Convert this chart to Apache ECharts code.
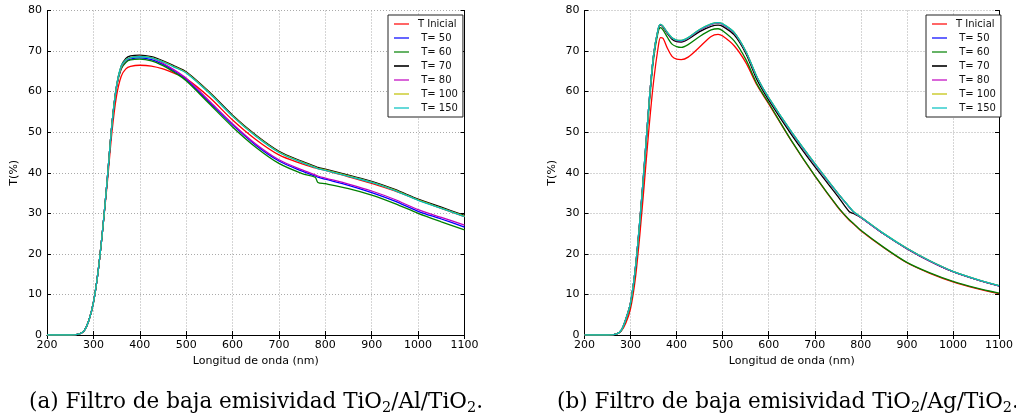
<!DOCTYPE html>
<html>
<head>
<meta charset="utf-8">
<script src="https://cdn.jsdelivr.net/npm/echarts@6/dist/echarts.min.js"></script>
<style>
html,body{margin:0;padding:0;background:#fff;}
#chart{width:1016px;height:414px;}
</style>
</head>
<body>
<div id="chart"></div>
<script>
// ---------- DATA ----------
const seriesNames = ['T Inicial', 'T= 50', 'T= 60', 'T= 70', 'T= 80', 'T= 100', 'T= 150'];
const xTicks = [200, 300, 400, 500, 600, 700, 800, 900, 1000, 1100];
const yTicks = [0, 10, 20, 30, 40, 50, 60, 70, 80];

// (a) TiO2/Al/TiO2
const wlA = [200,250,270,280,290,300,310,320,330,340,350,360,370,380,400,425,450,475,500,550,600,650,700,750,778,784,800,850,900,950,1000,1050,1100];
const a_inicial = [0,0,0.3,1.0,3.5,8,15.5,26,37.5,50,59,63.8,65.6,66.2,66.5,66.3,65.6,64.5,63.2,58.6,53.0,48.2,44.4,42.2,41.2,41.0,40.6,39.0,37.4,35.5,33.3,31.2,29.2];
const a_t50     = [0,0,0.3,1.0,3.5,8,15.5,26,38.5,52,61.3,65.8,67.4,68.0,68.3,67.9,66.7,65.0,63.0,57.4,51.8,46.8,42.9,40.4,39.2,38.9,38.4,36.9,35.1,33.0,30.5,28.6,26.6];
const a_t60     = [0,0,0.3,1.0,3.5,8,15.5,26,38.5,52,61.2,65.6,67.2,67.8,68.0,67.6,66.4,64.7,62.7,57.0,51.3,46.3,42.3,39.8,38.9,37.6,37.3,36.1,34.5,32.4,30.0,27.9,25.9];
const a_t70     = [0,0,0.3,1.0,3.5,8,15.5,26,38.5,52,61.5,66.3,68.2,68.8,69.0,68.6,67.6,66.3,64.9,59.9,54.2,49.3,45.3,42.8,41.6,41.3,40.9,39.4,37.9,35.9,33.5,31.5,29.5];
const a_t80     = [0,0,0.3,1.0,3.5,8,15.5,26,38.5,52,61.4,66.0,67.7,68.4,68.7,68.3,67.0,65.3,63.3,57.7,52.1,47.1,43.2,40.7,39.5,39.2,38.7,37.2,35.5,33.4,30.9,29.0,27.1];
const a_t100    = [0,0,0.3,1.0,3.5,8,15.5,26,38.5,52,61.4,66.2,67.8,68.4,68.7,68.4,67.4,66.1,64.7,59.7,54.0,49.1,45.1,42.6,41.4,41.1,40.7,39.2,37.7,35.7,33.3,31.3,29.3];
const a_t150    = [0,0,0.3,1.0,3.5,8,15.5,26,38.5,52,61.4,66.3,67.8,68.4,68.6,68.3,67.3,66.0,64.6,59.6,53.9,49.0,45.0,42.5,41.3,41.0,40.6,39.1,37.6,35.6,33.2,31.2,29.2];

// (b) TiO2/Ag/TiO2
const wlB = [200,250,270,280,290,300,310,320,330,340,350,360,365,370,380,390,400,410,425,450,475,490,500,525,550,575,600,650,700,750,775,785,800,850,900,950,1000,1050,1100];
const b_inicial = [0,0,0.3,1.0,3.0,6.5,13.5,24.5,37.5,51,62.5,71.0,73.3,73.2,70.7,68.7,68.0,67.9,68.5,71.0,73.6,74.1,73.7,71.3,67.2,61.5,57.0,47.7,39.2,31.5,28.3,27.3,25.7,21.5,17.8,15.2,13.1,11.5,10.2];
const b_t50     = [0,0,0.3,1.2,4,8,16,28,42,57,69,75.4,76.5,76.1,74.5,73.2,72.6,72.5,73.2,75.2,76.6,76.9,76.6,74.5,69.9,63.4,58.4,49.9,42.2,34.9,31.5,30.2,29.0,24.9,21.3,18.2,15.6,13.7,12.1];
const b_t60     = [0,0,0.3,1.1,3.8,7.5,15.5,27.5,41.5,56,68,74.8,75.8,75.3,73.4,71.7,71.1,70.9,71.6,73.6,75.2,75.5,75.0,72.5,68.0,61.8,57.2,47.8,39.3,31.6,28.4,27.4,25.8,21.6,17.9,15.3,13.2,11.6,10.3];
const b_t70     = [0,0,0.3,1.2,4,8,16,28,42,57,69,75.3,76.4,76.0,74.3,72.9,72.3,72.2,72.9,74.8,76.1,76.4,76.1,74.0,69.5,62.8,57.9,49.3,41.5,34.2,30.4,29.9,29.0,24.9,21.3,18.2,15.6,13.7,12.1];
const b_t80     = [0,0,0.3,1.2,4,8,16,28,42,57,69,75.4,76.5,76.1,74.5,73.2,72.6,72.5,73.2,75.2,76.6,76.9,76.6,74.5,69.9,63.4,58.4,49.9,42.2,34.9,31.5,30.2,29.0,24.9,21.3,18.2,15.6,13.7,12.1];
const b_t100    = [0,0,0.3,1.2,4,8,16,28,42,57,69,75.5,76.6,76.2,74.6,73.3,72.7,72.6,73.3,75.3,76.7,77.0,76.7,74.6,70.0,63.5,58.5,50.0,42.3,35.0,31.6,30.3,29.1,25.0,21.4,18.3,15.7,13.8,12.2];
const b_t150    = [0,0,0.3,1.2,4,8,16,28,42,57,69,75.5,76.6,76.2,74.6,73.3,72.7,72.6,73.3,75.3,76.7,77.0,76.7,74.6,70.0,63.5,58.5,50.0,42.3,35.0,31.6,30.3,29.1,25.0,21.4,18.3,15.7,13.8,12.2];

const captionA = ['(a) Filtro de baja emisividad TiO', '2', '/Al/TiO', '2', '.'];
const captionB = ['(b) Filtro de baja emisividad TiO', '2', '/Ag/TiO', '2', '.'];
const xName = 'Longitud de onda (nm)';
const yName = 'T(%)';

// ---------- STYLE ----------
const colors = ['#ff0000', '#0000ff', '#008000', '#000000', '#bf00bf', '#bfbf00', '#00bfbf'];
const legendColors = ['#ff6666', '#6666ff', '#66b366', '#333333', '#d966d9', '#d9d966', '#66d9d9'];
const font = 'DejaVu Sans';
const setA = [a_inicial, a_t50, a_t60, a_t70, a_t80, a_t100, a_t150];
const setB = [b_inicial, b_t50, b_t60, b_t70, b_t80, b_t100, b_t150];

const grids = [
  {left: 47, top: 10.5, width: 417.5, height: 324.5},
  {left: 584.5, top: 10.5, width: 417.5, height: 324.5}
];

const xAxes = [], yAxes = [];
grids.forEach((g, gi) => {
  xAxes.push({
    type: 'value', gridIndex: gi, min: 200, max: 1100, interval: 100, position: 'bottom',
    name: xName, nameLocation: 'middle', nameGap: 19,
    nameTextStyle: {fontFamily: font, fontSize: 11, color: '#000'},
    axisLine: {lineStyle: {color: '#000', width: 1}},
    axisTick: {inside: true, length: 4, lineStyle: {color: '#000'}},
    axisLabel: {fontFamily: font, fontSize: 11, color: '#000', margin: 5,
      formatter: v => xTicks.includes(v) ? String(v) : ''},
    splitLine: {show: true, lineStyle: {color: '#aaaaaa', type: [1, 2], width: 1}}
  });
  xAxes.push({
    type: 'value', gridIndex: gi, min: 200, max: 1100, interval: 100, position: 'top',
    axisLine: {lineStyle: {color: '#000', width: 1}},
    axisTick: {inside: true, length: 4, lineStyle: {color: '#000'}},
    axisLabel: {show: false}, splitLine: {show: false}
  });
  yAxes.push({
    type: 'value', gridIndex: gi, min: 0, max: 80, interval: 10, position: 'left',
    name: yName, nameLocation: 'middle', nameGap: 27, nameRotate: 90,
    nameTextStyle: {fontFamily: font, fontSize: 11, color: '#000'},
    axisLine: {show: true, lineStyle: {color: '#000', width: 1}},
    axisTick: {show: true, inside: true, length: 4, lineStyle: {color: '#000'}},
    axisLabel: {fontFamily: font, fontSize: 11, color: '#000', margin: 5,
      formatter: v => yTicks.includes(v) ? String(v) : ''},
    splitLine: {show: true, lineStyle: {color: '#aaaaaa', type: [1, 2], width: 1}}
  });
  yAxes.push({
    type: 'value', gridIndex: gi, min: 0, max: 80, interval: 10, position: 'right',
    axisLine: {show: true, lineStyle: {color: '#000', width: 1}},
    axisTick: {show: true, inside: true, length: 4, lineStyle: {color: '#000'}},
    axisLabel: {show: false}, splitLine: {show: false}
  });
});

const series = [];
[[wlA, setA], [wlB, setB]].forEach(([wl, set], gi) => {
  set.forEach((vals, si) => {
    series.push({
      type: 'line', name: seriesNames[si], xAxisIndex: gi * 2, yAxisIndex: gi * 2,
      data: wl.map((x, i) => [x, vals[i]]),
      showSymbol: false, symbol: 'none', smooth: 0.3,
      lineStyle: {color: colors[si], width: 1.3},
      itemStyle: {color: colors[si]},
      animation: false
    });
  });
});

function legendFor(left) {
  return {
    left: left, top: 15, orient: 'vertical',
    backgroundColor: '#fff', borderColor: '#222', borderWidth: 1,
    padding: [3, 5, 3, 6],
    itemWidth: 15, itemHeight: 2, itemGap: 2, icon: 'rect',
    selectedMode: false,
    textStyle: {fontFamily: font, fontSize: 10, color: '#111', lineHeight: 12, padding: [0, 0, 0, 4]},
    formatter: n => n === 'T Inicial' ? n : ' ' + n,
    data: seriesNames.map((n, i) => ({name: n, itemStyle: {color: legendColors[i]}}))
  };
}

function caption(parts, cx) {
  return {
    left: cx, top: 383, textAlign: 'center',
    text: '{n|' + parts[0] + '}{s|' + parts[1] + '}{n|' + parts[2] + '}{s|' + parts[3] + '}{n|' + parts[4] + '}',
    textStyle: {
      fontWeight: 'normal',
      rich: {
        n: {fontFamily: 'DejaVu Serif', fontSize: 21.5, fontWeight: 'normal', color: '#000', lineHeight: 28},
        s: {fontFamily: 'DejaVu Serif', fontSize: 14.5, fontWeight: 'normal', color: '#000', lineHeight: 15, verticalAlign: 'bottom'}
      }
    }
  };
}

const chart = echarts.init(document.getElementById('chart'), null, {renderer: 'canvas'});
chart.setOption({
  animation: false,
  backgroundColor: '#fff',
  title: [caption(captionA, 251), caption(captionB, 783)],
  grid: grids,
  xAxis: xAxes,
  yAxis: yAxes,
  legend: [legendFor(388), legendFor(926)],
  series: series
});
</script>
</body>
</html>
